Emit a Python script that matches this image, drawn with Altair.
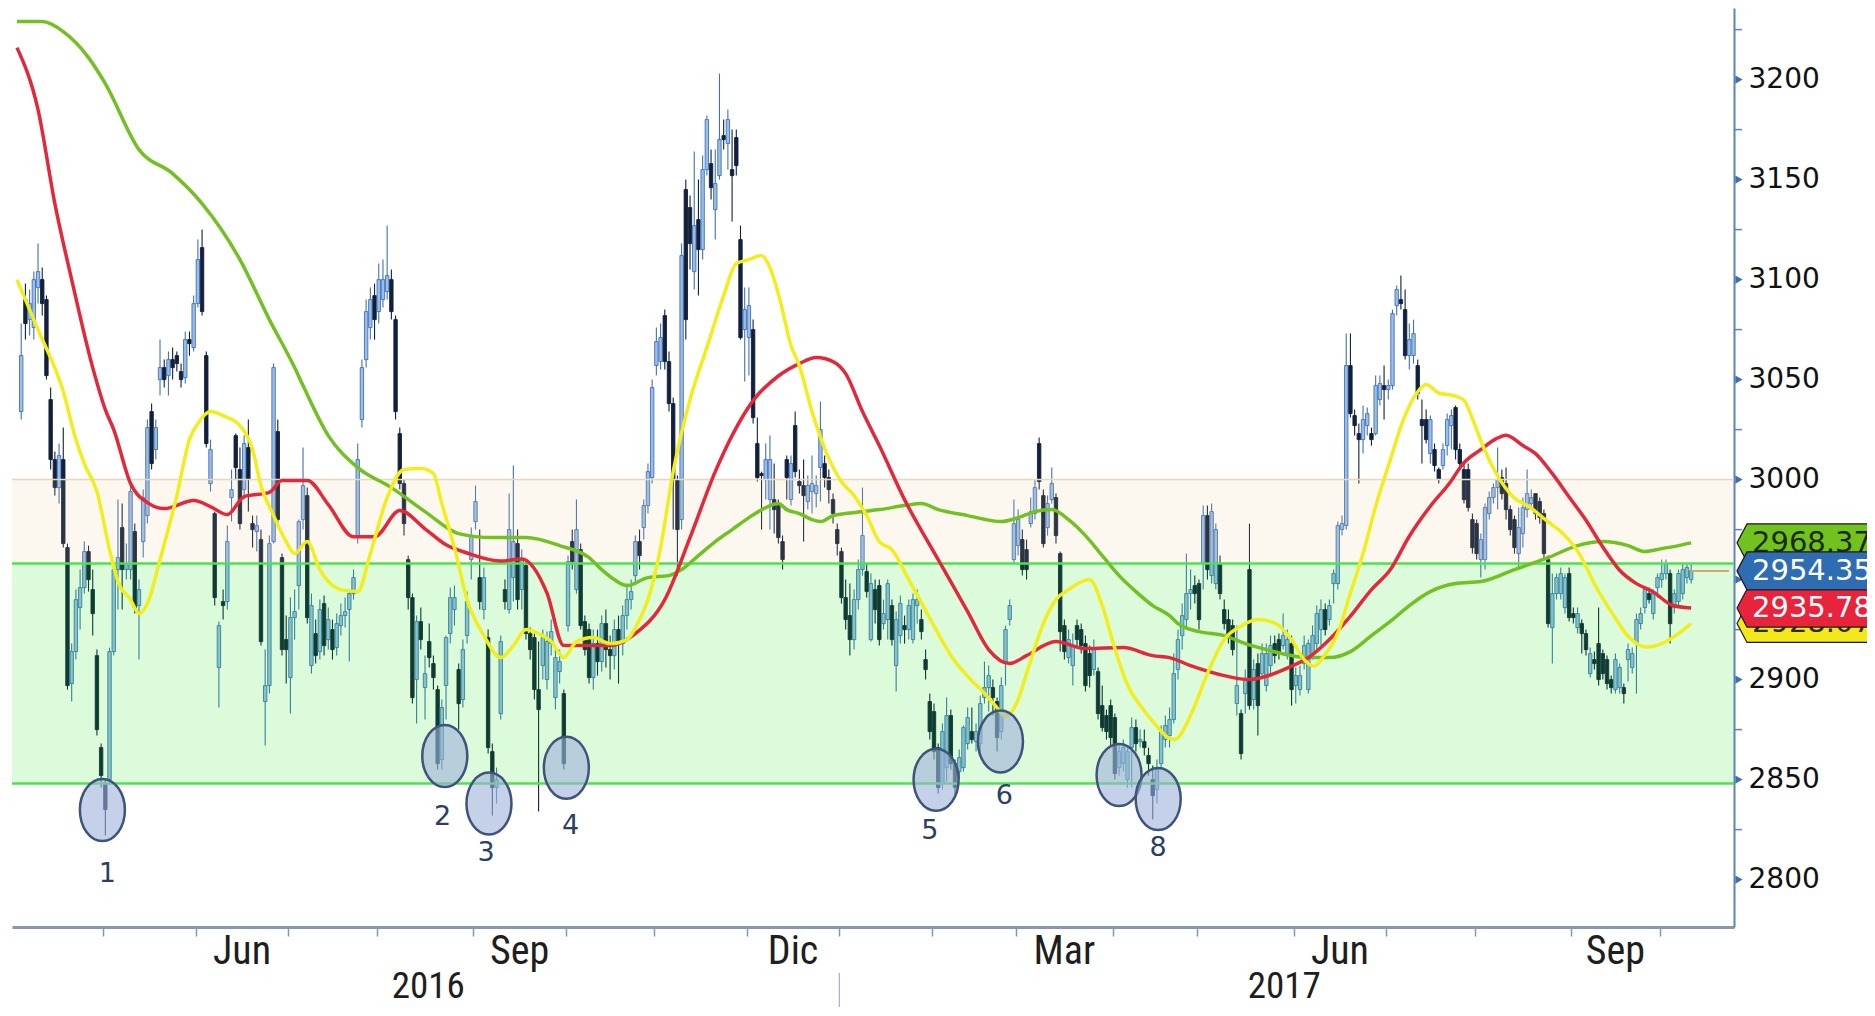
import altair as alt
import pandas as pd

# ------------------------------------------------------------------ data
opens = [
    3034, 3090, 3080, 3076, 3096, 3100, 3090, 3040, 3010, 2996,
    3010, 2966, 2898, 2914, 2936, 2946, 2964, 2945, 2912, 2866,
    2848, 2850, 2914, 2955, 2976, 2955, 2955, 2974, 2937, 2969,
    2982, 3034, 3015, 3050, 3056, 3052, 3060, 3062, 3054, 3051,
    3070, 3066, 3088, 3116, 3062, 2998, 2983, 2906, 2939, 2939,
    2991, 3022, 3005, 2995, 3016, 2978, 2974, 2970, 2889, 2897,
    2969, 3024, 2961, 2920, 2901, 2931, 2947, 2980, 2992, 2907,
    2923, 2914, 2938, 2920, 2925, 2916, 2927, 2932, 2935, 2943,
    2972, 3030, 3060, 3076, 3092, 3084, 3090, 3094, 3100, 3080,
    3023, 2998, 2960, 2941, 2900, 2929, 2896, 2919, 2908, 2895,
    2860, 2897, 2923, 2935, 2905, 2890, 2922, 2960, 2979, 2951,
    2935, 2921, 2864, 2846, 2883, 2945, 2935, 2951, 2968, 2945,
    2957, 2923, 2921, 2895, 2907, 2900, 2918, 2891, 2904, 2893,
    2927, 2969, 2945, 2965, 2929, 2925, 2901, 2918, 2909, 2928,
    2915, 2912, 2925, 2918, 2932, 2940, 2952, 2969, 2976, 2987,
    3001, 3057, 3059, 3082, 3059, 3038, 3000, 2980, 3145, 3136,
    3104, 3130, 3115, 3155, 3158, 3135, 3152, 3172, 3168, 3155,
    3171, 3120, 3075, 3071, 3075, 3018, 3003, 3000, 2990, 2990,
    2987, 2969, 3010, 2990, 3027, 2999, 2997, 2989, 2994, 2993,
    3006, 3008, 3001, 2990, 2975, 2964, 2941, 2932, 2920, 2940,
    2955, 2954, 2920, 2945, 2947, 2928, 2930, 2937, 2907, 2922,
    2927, 2925, 2920, 2937, 2930, 2910, 2889, 2884, 2866, 2848,
    2856, 2882, 2858, 2854, 2856, 2868, 2874, 2869, 2868, 2891,
    2896, 2896, 2889, 2874, 2909, 2930, 2960, 2967, 2970, 2965,
    2978, 2983, 3018, 2992, 2976, 2990, 2991, 2963, 2927, 2911,
    2907, 2927, 2925, 2918, 2913, 2905, 2904, 2887, 2882, 2887,
    2881, 2856, 2858, 2850, 2866, 2876, 2869, 2869, 2862, 2850,
    2845, 2858, 2870, 2872, 2880, 2905, 2922, 2930, 2943, 2947,
    2948, 2958, 2982, 2952, 2948, 2958, 2935, 2930, 2927, 2888,
    2883, 2893, 2955, 2890, 2908, 2903, 2897, 2907, 2918, 2920,
    2917, 2913, 2918, 2897, 2895, 2908, 2895, 2913, 2918, 2925,
    2935, 2930, 2948, 2948, 2975, 2977, 3057, 3032, 3023, 3020,
    3027, 3023, 3023, 3040, 3047, 3045, 3047, 3087, 3090, 3085,
    3062, 3062, 3057, 3030, 3030, 3013, 3015, 3005, 3007, 3017,
    3027, 3036, 3015, 3005, 3005, 2980, 2978, 2960, 2960, 2983,
    2991, 2996, 3001, 2998, 2985, 2980, 2963, 2973, 2985, 2988,
    2993, 2989, 2983, 2960, 2926, 2943, 2943, 2936, 2953, 2933,
    2926, 2928, 2923, 2903, 2910, 2918, 2913, 2910, 2900, 2895,
    2896, 2896, 2910, 2906, 2918, 2928, 2936, 2943, 2933, 2946,
    2950, 2953, 2953, 2936, 2939, 2943, 2951, 2950,
]
highs = [
    3078, 3098, 3095, 3104, 3118, 3106, 3092, 3046, 3014, 3018,
    3026, 2968, 2918, 2945, 2955, 2969, 2967, 2955, 2915, 2868,
    2850, 2916, 2958, 2990, 2988, 2968, 2997, 2978, 2950, 2995,
    3030, 3038, 3030, 3070, 3060, 3064, 3066, 3064, 3058, 3074,
    3074, 3092, 3120, 3125, 3064, 3020, 2984, 2929, 2945, 2977,
    3005, 3023, 3016, 3022, 3030, 2982, 2982, 2975, 2915, 2972,
    3058, 3030, 2963, 2932, 2941, 2945, 2980, 3016, 2996, 2943,
    2930, 2940, 2942, 2936, 2930, 2933, 2938, 2941, 2945, 2955,
    3018, 3060, 3090, 3096, 3098, 3108, 3110, 3127, 3105, 3082,
    3026, 3000, 2962, 2943, 2932, 2936, 2912, 2928, 2912, 2897,
    2890, 2922, 2946, 2947, 2908, 2920, 2944, 2976, 2997, 2975,
    2956, 2925, 2868, 2856, 2922, 2950, 2993, 3007, 2975, 2965,
    2960, 2926, 2923, 2919, 2925, 2924, 2930, 2915, 2915, 2895,
    2962, 2975, 2990, 2968, 2932, 2928, 2925, 2925, 2932, 2935,
    2922, 2930, 2932, 2937, 2948, 2950, 2972, 2975, 2990, 3008,
    3050, 3076, 3078, 3085, 3064, 3041, 3002, 3118, 3150, 3142,
    3164, 3150, 3162, 3182, 3165, 3165, 3203, 3180, 3185, 3175,
    3175, 3127, 3096, 3096, 3080, 3031, 3004, 3018, 3022, 3008,
    2990, 2972, 3012, 3012, 3034, 3005, 3010, 3002, 3012, 3002,
    3039, 3012, 3005, 2993, 2978, 2966, 2950, 2948, 2945, 2960,
    2996, 2958, 2953, 2950, 2950, 2940, 2950, 2940, 2934, 2942,
    2932, 2940, 2943, 2945, 2935, 2915, 2893, 2888, 2868, 2878,
    2891, 2885, 2860, 2865, 2877, 2886, 2886, 2878, 2892, 2909,
    2907, 2900, 2891, 2901, 2927, 2940, 2990, 2985, 2975, 2970,
    2991, 3000, 3021, 2995, 2992, 3006, 2993, 2964, 2930, 2925,
    2923, 2930, 2928, 2922, 2917, 2920, 2906, 2897, 2885, 2890,
    2883, 2868, 2870, 2866, 2881, 2880, 2875, 2875, 2866, 2857,
    2860, 2877, 2882, 2886, 2913, 2925, 2938, 2963, 2955, 2952,
    2950, 2987, 2987, 2988, 2978, 2962, 2940, 2935, 2930, 2927,
    2885, 2905, 2978, 2910, 2913, 2918, 2918, 2922, 2922, 2923,
    2933, 2925, 2922, 2906, 2907, 2922, 2920, 2927, 2937, 2940,
    2938, 2940, 2955, 2979, 2982, 3073, 3073, 3035, 3028, 3037,
    3036, 3026, 3052, 3052, 3057, 3050, 3085, 3097, 3102, 3095,
    3078, 3080, 3060, 3040, 3035, 3032, 3018, 3006, 3018, 3033,
    3035, 3037, 3018, 3008, 3008, 2983, 2980, 2973, 2988, 2994,
    2998, 3016, 3005, 3006, 2987, 2982, 2986, 2991, 3005, 2995,
    2993, 2991, 2985, 2962, 2953, 2953, 2956, 2953, 2956, 2936,
    2936, 2930, 2925, 2916, 2914, 2936, 2915, 2912, 2902, 2913,
    2908, 2898, 2918, 2916, 2933, 2936, 2946, 2946, 2945, 2953,
    2960, 2960, 2955, 2945, 2955, 2958, 2958, 2958,
]
lows = [
    3030, 3070, 3072, 3070, 3088, 3082, 3050, 3005, 2992, 2988,
    2966, 2895, 2889, 2910, 2925, 2943, 2944, 2922, 2872, 2846,
    2822, 2848, 2912, 2935, 2935, 2950, 2950, 2933, 2910, 2961,
    2978, 3005, 3010, 3042, 3046, 3042, 3050, 3054, 3046, 3048,
    3062, 3064, 3086, 3082, 3016, 2994, 2937, 2886, 2930, 2935,
    2979, 3000, 2975, 2990, 2984, 2966, 2964, 2917, 2867, 2893,
    2968, 2976, 2912, 2898, 2883, 2920, 2935, 2975, 2928, 2903,
    2908, 2910, 2912, 2915, 2910, 2912, 2922, 2926, 2909, 2940,
    2968, 3026, 3056, 3070, 3070, 3078, 3086, 3090, 3080, 3030,
    2995, 2972, 2935, 2888, 2878, 2915, 2880, 2906, 2895, 2855,
    2855, 2880, 2918, 2927, 2875, 2886, 2918, 2950, 2975, 2935,
    2930, 2863, 2832, 2838, 2880, 2935, 2933, 2939, 2935, 2935,
    2920, 2910, 2890, 2834, 2900, 2895, 2912, 2885, 2898, 2855,
    2924, 2955, 2943, 2925, 2912, 2898, 2895, 2902, 2904, 2906,
    2900, 2905, 2898, 2912, 2925, 2935, 2948, 2955, 2970, 2983,
    2998, 3052, 3055, 3055, 3034, 2975, 2952, 2975, 3070, 3105,
    3095, 3092, 3110, 3152, 3140, 3120, 3150, 3165, 3155, 3129,
    3152, 3070, 3049, 3052, 3028, 2999, 2975, 2990, 2975, 2973,
    2968, 2955, 2990, 2987, 3001, 2993, 2969, 2985, 2983, 2986,
    2989, 2996, 2988, 2978, 2962, 2938, 2925, 2912, 2915, 2935,
    2952, 2941, 2919, 2928, 2917, 2925, 2920, 2917, 2894, 2918,
    2918, 2920, 2918, 2928, 2920, 2900, 2870, 2860, 2843, 2845,
    2849, 2855, 2842, 2850, 2854, 2865, 2868, 2864, 2864, 2888,
    2884, 2882, 2864, 2870, 2897, 2927, 2958, 2962, 2952, 2950,
    2976, 2980, 2995, 2966, 2972, 2988, 2968, 2914, 2910, 2908,
    2897, 2916, 2913, 2894, 2896, 2902, 2880, 2874, 2870, 2866,
    2850, 2852, 2854, 2846, 2846, 2864, 2866, 2862, 2852, 2830,
    2838, 2855, 2866, 2866, 2878, 2900, 2915, 2925, 2935, 2938,
    2925, 2945, 2950, 2948, 2945, 2940, 2925, 2918, 2912, 2882,
    2860, 2883, 2885, 2885, 2872, 2900, 2894, 2903, 2908, 2910,
    2915, 2910, 2887, 2888, 2892, 2905, 2893, 2910, 2915, 2917,
    2922, 2927, 2938, 2945, 2972, 2975, 3031, 3022, 2998, 3013,
    3022, 3017, 3022, 3037, 3030, 3040, 3045, 3082, 3085, 3060,
    3055, 3058, 3040, 3008, 3018, 3008, 3004, 2998, 3005, 3012,
    3015, 3010, 3005, 2988, 2984, 2963, 2960, 2951, 2955, 2980,
    2988, 2985, 2990, 2980, 2972, 2963, 2956, 2966, 2981, 2985,
    2980, 2978, 2960, 2926, 2908, 2940, 2940, 2933, 2929, 2928,
    2923, 2913, 2912, 2901, 2905, 2897, 2900, 2895, 2893, 2893,
    2893, 2888, 2899, 2903, 2893, 2925, 2933, 2938, 2930, 2941,
    2946, 2950, 2918, 2933, 2936, 2940, 2948, 2948,
]
closes = [
    3062, 3078, 3088, 3100, 3104, 3088, 3052, 3010, 2996, 3012,
    2968, 2897, 2914, 2940, 2946, 2964, 2950, 2933, 2875, 2852,
    2835, 2914, 2955, 2961, 2955, 2958, 2994, 2936, 2945, 2991,
    3026, 3008, 3026, 3056, 3050, 3060, 3056, 3058, 3050, 3070,
    3068, 3088, 3110, 3084, 3018, 3015, 2941, 2927, 2937, 2969,
    2995, 3006, 2978, 3018, 3000, 2975, 2977, 2919, 2897, 2968,
    3056, 2980, 2915, 2915, 2931, 2934, 2979, 2997, 2931, 2937,
    2912, 2935, 2917, 2930, 2915, 2928, 2932, 2934, 2943, 2951,
    3010, 3056, 3084, 3090, 3080, 3100, 3100, 3102, 3084, 3034,
    2998, 2978, 2941, 2891, 2929, 2920, 2903, 2911, 2901, 2858,
    2886, 2921, 2941, 2941, 2888, 2915, 2939, 2972, 2989, 2939,
    2951, 2866, 2846, 2850, 2919, 2939, 2975, 2969, 2940, 2960,
    2923, 2915, 2895, 2885, 2921, 2919, 2924, 2911, 2909, 2858,
    2959, 2959, 2975, 2927, 2915, 2901, 2918, 2909, 2928, 2915,
    2912, 2925, 2918, 2932, 2940, 2944, 2969, 2962, 2987, 3004,
    3046, 3069, 3071, 3059, 3038, 3000, 2975, 3112, 3080, 3118,
    3127, 3115, 3155, 3180, 3146, 3148, 3170, 3170, 3180, 3152,
    3157, 3071, 3085, 3087, 3031, 3001, 3002, 3010, 3010, 2985,
    2971, 2960, 3001, 3008, 3004, 2997, 2992, 2997, 2998, 2997,
    3025, 3001, 2995, 2983, 2968, 2941, 2930, 2920, 2940, 2955,
    2972, 2944, 2948, 2935, 2920, 2933, 2948, 2920, 2930, 2938,
    2925, 2937, 2940, 2940, 2924, 2905, 2874, 2864, 2846, 2874,
    2882, 2858, 2846, 2861, 2876, 2881, 2870, 2874, 2888, 2896,
    2902, 2891, 2871, 2897, 2925, 2937, 2978, 2980, 2955, 2955,
    2984, 2996, 2999, 2968, 2988, 2998, 2972, 2924, 2914, 2920,
    2917, 2920, 2917, 2897, 2902, 2915, 2883, 2876, 2874, 2871,
    2853, 2864, 2866, 2864, 2876, 2868, 2870, 2866, 2858, 2842,
    2855, 2874, 2877, 2880, 2903, 2920, 2932, 2943, 2945, 2943,
    2930, 2982, 2955, 2984, 2975, 2943, 2928, 2922, 2915, 2897,
    2863, 2900, 2887, 2905, 2887, 2913, 2913, 2917, 2912, 2913,
    2922, 2920, 2895, 2902, 2902, 2917, 2918, 2922, 2933, 2935,
    2925, 2937, 2953, 2977, 2978, 3057, 3033, 3027, 3020, 3030,
    3033, 3020, 3047, 3048, 3045, 3047, 3083, 3095, 3088, 3062,
    3070, 3073, 3043, 3027, 3020, 3030, 3007, 3000, 3015, 3030,
    3032, 3015, 3008, 2990, 2986, 2966, 2963, 2970, 2986, 2991,
    2996, 3000, 2993, 2985, 2975, 2966, 2976, 2986, 2993, 2991,
    2983, 2981, 2963, 2928, 2943, 2951, 2953, 2951, 2931, 2931,
    2933, 2923, 2915, 2913, 2908, 2900, 2903, 2898, 2896, 2910,
    2906, 2893, 2915, 2913, 2930, 2933, 2945, 2940, 2943, 2951,
    2953, 2958, 2928, 2943, 2953, 2955, 2956, 2954.35,
]

# moving averages (trading-day index, value)
yellow_i = [-1, 4, 10, 13, 15, 18, 21, 23, 26, 28, 30, 33, 37, 40, 42, 45, 48, 52, 55, 57,
            60, 63, 65, 68, 71, 76, 80, 83, 87, 91, 95, 98, 100, 103, 106, 110, 114, 117, 120, 123,
            126, 129, 132, 136, 140, 144, 147, 149, 152, 155, 159, 163, 167, 170, 173, 176, 178, 180.5, 183, 185,
            188, 191.5, 195, 198, 201, 204, 207, 211, 214, 218, 221.5, 225.4, 228.6, 231.7, 234, 236.5, 239.6, 242.8, 246, 249,
            254, 257, 260, 263, 266.4, 269.6, 272.7, 274.2, 278.2, 282, 286, 290, 294, 298, 302, 305, 307.3, 309.7, 313, 316,
            319, 322, 325.5, 328.6, 331.8, 334, 337, 341, 343, 345, 347.6, 350.7, 354.7, 358.6, 362.5, 366.5, 370.4, 374.4, 378.3, 382.2,
            386.2, 390, 394, 397]
yellow_v = [3100, 3075, 3044, 3020, 3008, 2994, 2965, 2949, 2940, 2933, 2938, 2960, 2992, 3020, 3028, 3034, 3032, 3027, 3015, 2997,
            2982, 2969, 2963, 2969, 2955, 2945, 2944, 2963, 2991, 3005, 3005.5, 3003, 2988, 2966, 2940, 2922, 2911, 2917, 2925, 2923,
            2919, 2911, 2919, 2921, 2918, 2920, 2930, 2940, 2966, 3004, 3040, 3066, 3092, 3108, 3110, 3112, 3106, 3089, 3067, 3057,
            3034, 3013, 2999, 2992, 2982, 2969, 2965, 2950, 2938.5, 2923, 2910.5, 2900.7, 2894, 2886.7, 2881.7, 2887.5, 2907, 2927, 2940, 2945,
            2950, 2937, 2915.5, 2897.4, 2886, 2877.6, 2871, 2870, 2883, 2903, 2920, 2926.7, 2930, 2928.3, 2920, 2910, 2906.7, 2911.7, 2923.3, 2943.3,
            2963, 2986.7, 3010, 3030, 3043.3, 3047.5, 3043.3, 3041.7, 3039.7, 3030.5, 3016.3, 3003, 2991.3, 2986.3, 2979.7, 2973, 2963, 2946.3, 2933, 2921.3,
            2916.3, 2918, 2923, 2928]
red_i = [-1, 4, 8, 12, 17, 20, 22, 26, 30, 34, 41, 45, 49, 53, 59, 62, 68, 73, 79, 84,
         90, 96, 101, 106, 114, 119, 125, 129, 134, 140, 146, 153, 159, 165, 169, 174, 180, 185, 189, 193,
         196, 200, 204, 210, 218, 225, 230, 235, 239, 246, 253, 262, 269, 273, 278, 286, 292, 296, 302, 306.5,
         311, 316, 321, 325.5, 330, 335, 339.6, 342.8, 346.8, 350.7, 353, 357, 360, 364, 368, 372, 376, 380, 384, 388,
         392.5, 397]
red_v = [3216, 3185, 3138, 3100, 3056, 3035, 3025, 2998, 2988.5, 2985.5, 2989.5, 2986.5, 2982.5, 2991.5, 2993.6, 2999.6, 2999.6, 2987.5, 2971.4, 2971.4,
         2984.5, 2975.4, 2967.4, 2963.3, 2959.3, 2960.3, 2943.2, 2917, 2917, 2917, 2923, 2940, 2971, 3004, 3022, 3039.5, 3051.8, 3058, 3061, 3059,
         3053, 3034, 3017, 2990, 2960, 2934, 2915, 2908, 2912, 2919, 2915.5, 2916, 2912, 2911, 2907, 2902, 2900, 2901.7, 2906.7, 2911.7,
         2920, 2931.7, 2945, 2955, 2971.7, 2986.7, 2998.3, 3008, 3014.7, 3020.5, 3022.2, 3017, 3013, 3003, 2991.3, 2979.7, 2966.3, 2954.7, 2948, 2943.8,
         2937.2, 2935.78]
green_i = [-1, 5, 10, 16, 20, 28, 36, 43, 52, 59, 65, 67, 73, 80, 88, 96, 104, 112, 120, 128,
           135, 138, 141, 144, 149, 154, 157, 161, 165, 169, 173, 177, 180, 182, 185, 188, 190, 193, 196, 200,
           204, 210, 214, 218, 225, 233, 237, 241, 245, 249, 253, 257, 261, 265, 269, 273, 275, 280, 286, 291,
           296, 302, 306, 311, 316, 321, 326, 330, 335, 341, 347, 355, 363, 370, 376, 382, 386, 390, 394, 397]
green_v = [3229, 3229, 3224, 3211, 3198, 3165, 3153, 3138, 3110, 3080, 3056, 3047, 3022, 3006, 2996, 2984, 2973, 2971, 2971, 2967,
           2961, 2955, 2950, 2947, 2951, 2952, 2955, 2962, 2969, 2975, 2981, 2986, 2988, 2985, 2983, 2980, 2979, 2982, 2983, 2984,
           2985, 2987, 2988, 2985, 2982, 2979, 2981, 2984, 2985, 2980, 2972, 2962, 2952, 2944, 2937, 2932, 2928, 2924, 2922, 2918,
           2915, 2912, 2911, 2911, 2914, 2922, 2930, 2937, 2944, 2948, 2949, 2955, 2961, 2967, 2969, 2967, 2964, 2965.5, 2967, 2968.37]

# horizontal levels
green_zone = [2848, 2958]
beige_zone = [2958, 3000]

# numbered circles on the lows
circle_i = [19.3, 100.7, 111.2, 129.6, 217.5, 232.8, 261.0, 270.3]
circle_v = [2834.8, 2861.8, 2838.0, 2855.9, 2849.9, 2869.0, 2852.3, 2840.3]
num_text = ["1", "2", "3", "4", "5", "6", "8"]
num_i = [20.5, 100.2, 110.5, 130.6, 216.0, 233.7, 270.3]
num_v = [2802.8, 2831.3, 2813.3, 2826.8, 2824.3, 2841.6, 2815.7]

# value tags on the right (drawn in this order)
tag_values = [2968.37, 2928.07, 2935.78, 2954.35]
tag_text = ["2968.37", "2928.07", "2935.78", "2954.35"]
tag_fill = ["#72c21f", "#f2e81a", "#e8243c", "#2f6db3"]
tag_ink = ["#1b2a08", "#2a2a08", "#ffffff", "#ffffff"]

y_labels = [2800, 2850, 2900, 3000, 3050, 3100, 3150, 3200]
y_major = [2800, 2850, 2900, 2950, 3000, 3050, 3100, 3150, 3200]
y_minor = [2825, 2875, 2925, 2975, 3025, 3075, 3125, 3175, 3225]
month_abbr = {3: "Mar", 6: "Jun", 9: "Sep", 12: "Dic"}

# ------------------------------------------------------------------ layout
W, H = 1722, 919
XDOM = [-1, 406]
YDOM = [2776.3, 3235.8]
NARROW = "Roboto Condensed, Liberation Sans Narrow, Roboto, sans-serif"

n = len(closes)
dates = pd.bdate_range("2016-04-04", periods=n)
starts = [k for k in range(1, n) if dates[k].month != dates[k - 1].month]
tick_pos = [k - 0.5 for k in starts]
mlab_pos, mlab_txt = [], []
for a, b in zip(starts[:-1], starts[1:]):
    m = dates[a].month
    if m in month_abbr:
        mlab_pos.append((a + b) / 2 - 0.5)
        mlab_txt.append(month_abbr[m])
jan = [k for k in starts if dates[k].month == 1][0] - 0.5
year_pos = [(XDOM[0] + jan) / 2, (jan + XDOM[1]) / 2]
year_txt = [str(dates[0].year), str(dates[-1].year)]

cdf = pd.DataFrame({"i": list(range(n)), "o": opens, "h": highs, "l": lows, "c": closes})
cdf["hi"] = cdf[["h", "o", "c"]].max(axis=1)
cdf["lo"] = cdf[["l", "o", "c"]].min(axis=1)
cdf["dir"] = ["up" if c >= o else "down" for o, c in zip(opens, closes)]

xs = alt.Scale(domain=XDOM, nice=False, zero=False)
ys = alt.Scale(domain=YDOM, nice=False, zero=False)
x_axis = alt.Axis(values=tick_pos, labels=False, tickSize=9, tickColor="#8797b0", tickWidth=1.5,
                  domainColor="#8797b0", domainWidth=3, grid=False, title=None)
y_axis = alt.Axis(orient="right", values=y_labels, format="d", labelFont="DejaVu Sans", labelFontSize=28,
                  labelColor="#111111", tickSize=0, labelPadding=14, domainColor="#5a84bf",
                  domainWidth=2, grid=False, title=None, labelFlush=False, labelOverlap=False)


def X(f):
    return alt.X(f, type="quantitative", scale=xs, axis=x_axis)


def Y(f):
    return alt.Y(f, type="quantitative", scale=ys, axis=y_axis)


up_fill, up_edge = "#9cbde9", "#3f72b8"
dn_fill, dn_edge = "#12203c", "#12203c"

wicks = alt.Chart(cdf).mark_rule(strokeWidth=1.1).encode(
    x=X("i"), y=Y("lo"), y2="hi",
    color=alt.Color("dir:N", scale=alt.Scale(domain=["up", "down"], range=[up_edge, dn_edge]), legend=None))
bodies = alt.Chart(cdf).mark_bar(size=3.4, strokeWidth=0.9).encode(
    x=X("i"), y=Y("o"), y2="c",
    fill=alt.Fill("dir:N", scale=alt.Scale(domain=["up", "down"], range=[up_fill, dn_fill]), legend=None),
    stroke=alt.Stroke("dir:N", scale=alt.Scale(domain=["up", "down"], range=[up_edge, dn_edge]), legend=None))

green_band = alt.Chart(pd.DataFrame({"lo": [green_zone[0]], "hi": [green_zone[1]]})).mark_rect(
    color="#00e000", opacity=0.14).encode(x=alt.value(0), x2=alt.value(W), y=Y("lo"), y2="hi")
beige_band = alt.Chart(pd.DataFrame({"lo": [beige_zone[0]], "hi": [beige_zone[1]]})).mark_rect(
    color="#e6c878", opacity=0.12).encode(x=alt.value(0), x2=alt.value(W), y=Y("lo"), y2="hi")
top_line = alt.Chart(pd.DataFrame({"v": [beige_zone[1]]})).mark_rule(color="#e6d8bb", strokeWidth=1.5).encode(
    x=alt.value(0), x2=alt.value(W), y=Y("v"))
green_lines = alt.Chart(pd.DataFrame({"v": green_zone})).mark_rule(color="#4fe24f", strokeWidth=2.5).encode(
    x=alt.value(0), x2=alt.value(W), y=Y("v"))


def ma(ii, vv, col):
    return alt.Chart(pd.DataFrame({"i": ii, "v": vv})).mark_line(
        color=col, strokeWidth=3.5, interpolate="monotone").encode(x=X("i"), y=Y("v"))


green_ma = ma(green_i, green_v, "#72c021")
red_ma = ma(red_i, red_v, "#e3283c")
yellow_ma = ma(yellow_i, yellow_v, "#f2ee1c")

last_line = alt.Chart(pd.DataFrame({"i": [n - 1], "i2": [XDOM[1]], "v": [closes[-1]]})).mark_rule(
    color="#d9a36f", strokeWidth=2).encode(x=X("i"), x2="i2", y=Y("v"))

ELL = ("M0,-1 C0.401,-1 0.726,-0.552 0.726,0 C0.726,0.552 0.401,1 0,1 "
       "C-0.401,1 -0.726,0.552 -0.726,0 C-0.726,-0.552 -0.401,-1 0,-1 Z")
ellipses = alt.Chart(pd.DataFrame({"i": circle_i, "v": circle_v})).mark_point(
    shape=ELL, size=3844, filled=True, fill="#9db2db", fillOpacity=0.6, opacity=1,
    stroke="#3f5478", strokeWidth=2.5).encode(x=X("i"), y=Y("v"))
numbers = alt.Chart(pd.DataFrame({"i": num_i, "v": num_v, "t": num_text})).mark_text(
    font="DejaVu Sans", fontSize=27, color="#2b3f66").encode(x=X("i"), y=Y("v"), text="t:N")

tri = alt.Chart(pd.DataFrame({"v": y_major})).mark_point(
    shape="triangle-right", size=70, filled=True, color="#3d6eb3", opacity=1).encode(
    x=alt.value(W + 5), y=Y("v"))
minor = alt.Chart(pd.DataFrame({"v": y_minor})).mark_rule(color="#5a84bf", strokeWidth=1.5).encode(
    x=alt.value(W), x2=alt.value(W + 8), y=Y("v"))

month_lbl = alt.Chart(pd.DataFrame({"pos": mlab_pos, "t": mlab_txt})).mark_text(
    font=NARROW, fontSize=40, color="#1e1e1e", baseline="middle").encode(
    x=X("pos"), y=alt.value(H + 25), text="t:N")
year_lbl = alt.Chart(pd.DataFrame({"pos": year_pos, "t": year_txt})).mark_text(
    font=NARROW, fontSize=37, color="#1e1e1e", baseline="middle").encode(
    x=X("pos"), y=alt.value(H + 60), text="t:N")
divider = alt.Chart(pd.DataFrame({"pos": [jan]})).mark_rule(color="#a3b1c6", strokeWidth=1.2).encode(
    x=X("pos"), y=alt.value(H + 46), y2=alt.value(H + 80))

TAG = "M-1,0 L-0.9,-0.19 L1,-0.19 L1,0.19 L-0.9,0.19 Z"
tag_layers = []
for v, t, f, ink in zip(tag_values, tag_text, tag_fill, tag_ink):
    d = pd.DataFrame({"v": [v], "t": [t]})
    tag_layers.append(alt.Chart(d).mark_point(
        shape=TAG, size=40000, filled=True, fill=f, opacity=1, fillOpacity=1,
        stroke="#1a1a1a", strokeWidth=1.2).encode(x=alt.value(W + 103), y=Y("v")))
    tag_layers.append(alt.Chart(d).mark_text(
        align="left", baseline="middle", font="DejaVu Sans", fontSize=29, color=ink).encode(
        x=alt.value(W + 18), y=Y("v"), text="t:N"))

chart = alt.layer(
    wicks, bodies, beige_band, green_band, top_line, green_lines,
    green_ma, red_ma, yellow_ma, last_line, ellipses, numbers,
    tri, minor, month_lbl, year_lbl, divider, *tag_layers,
).properties(
    width=W, height=H,
    autosize=alt.AutoSizeParams(type="none"),
    padding={"left": 4, "top": 0, "right": 133, "bottom": 80},
    background="white",
).configure_view(stroke=None)

chart.save("out.html", embed_options={"renderer": "svg", "actions": False})
